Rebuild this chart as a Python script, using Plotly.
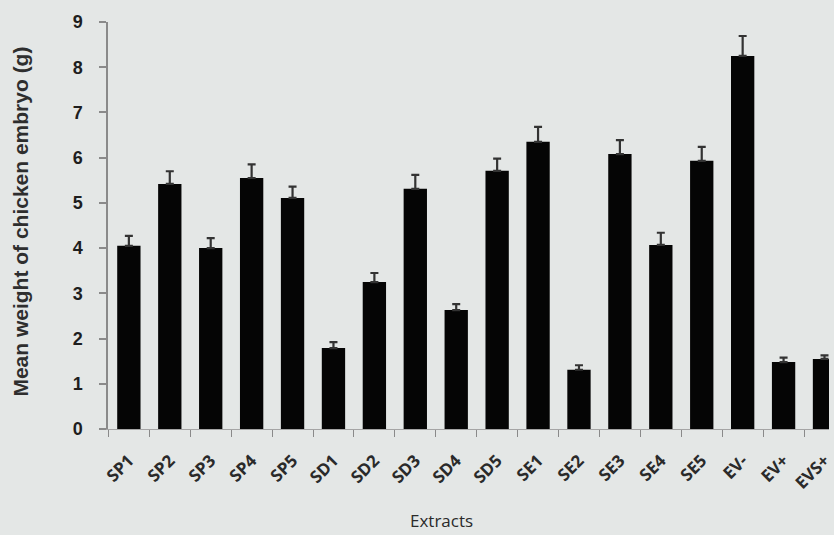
import plotly.graph_objects as go

categories = ["SP1", "SP2", "SP3", "SP4", "SP5", "SD1", "SD2", "SD3", "SD4", "SD5",
              "SE1", "SE2", "SE3", "SE4", "SE5", "EV-", "EV+", "EVS+"]
means = [4.05, 5.42, 4.00, 5.55, 5.11, 1.79, 3.25, 5.31, 2.63, 5.71,
         6.35, 1.31, 6.08, 4.07, 5.93, 8.25, 1.48, 1.55]
errors = [0.22, 0.28, 0.22, 0.30, 0.25, 0.13, 0.20, 0.31, 0.13, 0.27,
          0.33, 0.10, 0.31, 0.27, 0.31, 0.44, 0.10, 0.08]
y_ticks = [0, 1, 2, 3, 4, 5, 6, 7, 8, 9]

bg = "#e4e7e6"
W, H = 834, 535
ml, mr, mt, mb = 108, 0, 22, 106
pw = W - ml - mr
ph = H - mt - mb

fig = go.Figure()
fig.add_trace(go.Bar(
    x=categories,
    y=means,
    width=0.57,
    marker=dict(color="#050505", line=dict(width=0)),
    error_y=dict(type="data", symmetric=False, array=errors,
                 arrayminus=[0] * len(errors), visible=True,
                 color="#333333", thickness=2.2, width=4),
))

fig.update_layout(
    width=W, height=H,
    margin=dict(l=ml, r=mr, t=mt, b=mb),
    paper_bgcolor=bg, plot_bgcolor=bg,
    showlegend=False,
    xaxis=dict(
        type="category",
        range=[-0.51, 17.11],
        tickson="boundaries",
        tickangle=-45,
        tickfont=dict(family="Open Sans", size=17, color="#2a2a2a", weight="bold"),
        ticks="outside", ticklen=7, tickcolor="#8a8a8a", tickwidth=1.2,
        showline=True, linecolor="#a5a5a5", linewidth=1,
        showgrid=False, zeroline=False,
        ticklabelstandoff=14,
        ticklabeloverflow="allow",
    ),
    yaxis=dict(
        range=[0, 9],
        tickmode="array",
        tickvals=y_ticks,
        ticktext=[str(v) for v in y_ticks],
        tickfont=dict(family="Liberation Sans", size=18, color="#1e1e1e", weight="bold"),
        ticks="outside", ticklen=7, tickcolor="#8a8a8a", tickwidth=1.5,
        showline=True, linecolor="#8a8a8a", linewidth=1.5,
        showgrid=False, zeroline=False,
        ticklabelstandoff=13,
    ),
    annotations=[
        dict(text="Mean weight of chicken embryo (g)", textangle=-90,
             xref="paper", yref="paper",
             x=(20 - ml) / pw, y=(H - mb - 222) / ph,
             xanchor="center", yanchor="middle", showarrow=False,
             font=dict(family="Liberation Sans", size=21, color="#2e2e2e", weight="bold")),
        dict(text="Extracts",
             xref="paper", yref="paper",
             x=(444 - ml) / pw, y=-(520 - (H - mb)) / ph,
             xanchor="center", yanchor="middle", showarrow=False,
             font=dict(family="Open Sans", size=17, color="#2a2a2a")),
    ],
)

fig.write_html("out.html")
